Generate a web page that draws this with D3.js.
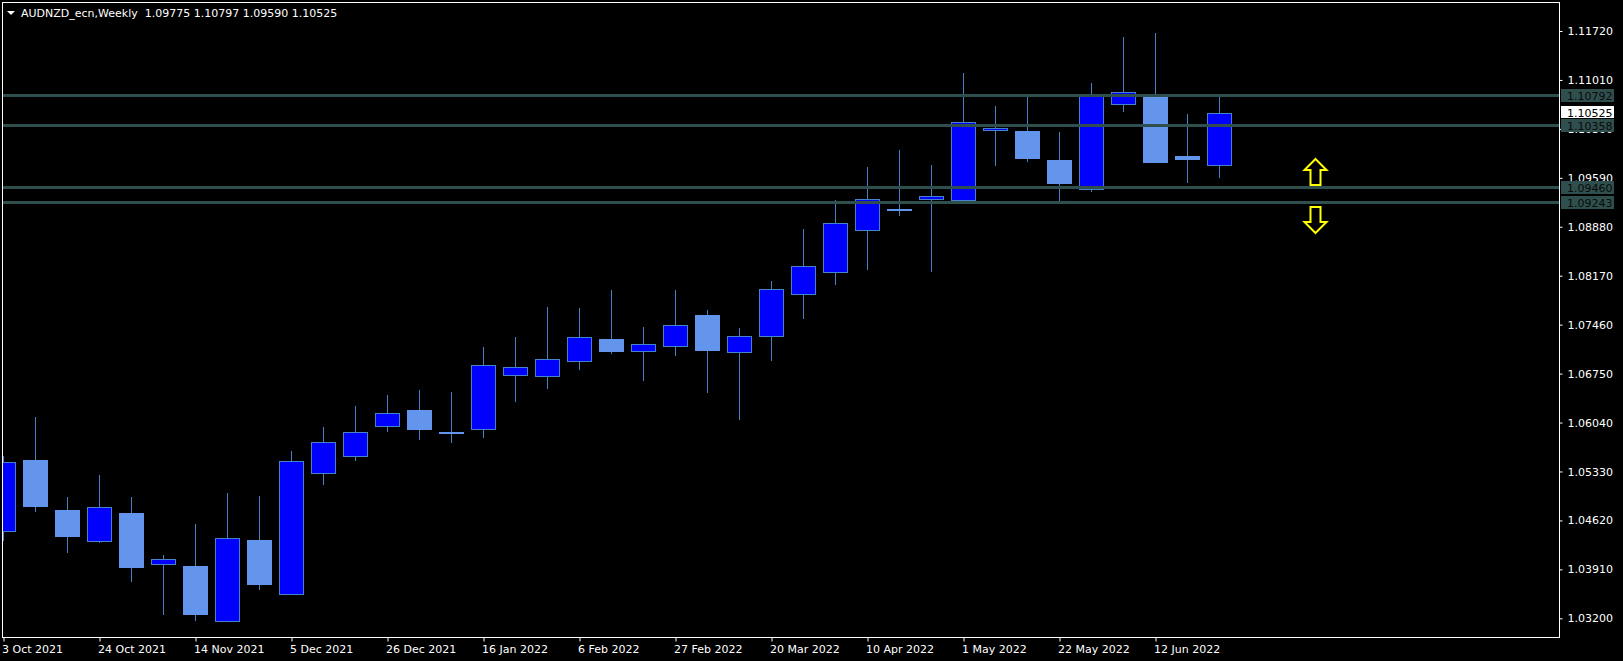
<!DOCTYPE html>
<html>
<head>
<meta charset="utf-8">
<script src="https://cdn.jsdelivr.net/npm/d3@7/dist/d3.min.js"></script>
<style>
  html, body { margin: 0; padding: 0; background: #000; }
  svg { display: block; }
  text { font-family: "DejaVu Sans", sans-serif; font-size: 11px; }
</style>
</head>
<body>
<svg id="chart" width="1623" height="661"></svg>
<script>
// ---------- DATA ----------
const symbolTitle = "AUDNZD_ecn,Weekly";
const dates = [
  "2021-10-03","2021-10-10","2021-10-17","2021-10-24","2021-10-31","2021-11-07","2021-11-14",
  "2021-11-21","2021-11-28","2021-12-05","2021-12-12","2021-12-19","2021-12-26","2022-01-02",
  "2022-01-09","2022-01-16","2022-01-23","2022-01-30","2022-02-06","2022-02-13","2022-02-20",
  "2022-02-27","2022-03-06","2022-03-13","2022-03-20","2022-03-27","2022-04-03","2022-04-10",
  "2022-04-17","2022-04-24","2022-05-01","2022-05-08","2022-05-15","2022-05-22","2022-05-29",
  "2022-06-05","2022-06-12","2022-06-19","2022-06-26"
];
const openP  = [1.04462,1.05497,1.04771,1.04317,1.04728,1.03983,1.03959,1.03156,1.04336,1.03548,
                1.05304,1.05550,1.05985,1.06222,1.05898,1.05942,1.06725,1.06711,1.06928,1.07252,
                1.07074,1.07146,1.07600,1.07059,1.07291,1.07900,1.08220,1.08829,1.09138,1.09279,
                1.09269,1.10280,1.10270,1.09852,1.09424,1.10657,1.10777,1.09907,1.09775];
const highP  = [1.05555,1.06120,1.04960,1.05279,1.04960,1.04118,1.04568,1.05018,1.04974,1.05627,
                1.05975,1.06280,1.06440,1.06512,1.06483,1.07136,1.07281,1.07716,1.07702,1.07963,
                1.07426,1.07963,1.07673,1.07412,1.08093,1.08848,1.09265,1.09747,1.09994,1.09776,
                1.11111,1.10632,1.10777,1.10255,1.10966,1.11633,1.11691,1.10516,1.10797];
const lowP   = [1.04326,1.04747,1.04152,1.04297,1.03731,1.03252,1.03165,1.03150,1.03615,1.03540,
                1.05138,1.05486,1.05907,1.05791,1.05748,1.05820,1.06342,1.06531,1.06807,1.07039,
                1.06647,1.07010,1.06473,1.06081,1.06937,1.07547,1.08040,1.08257,1.09041,1.08228,
                1.09206,1.09766,1.09824,1.09215,1.09389,1.10550,1.09810,1.09520,1.09590];
const closeP = [1.05463,1.04834,1.04398,1.04810,1.03949,1.04056,1.03267,1.04361,1.03702,1.05478,
                1.05753,1.05898,1.06174,1.05951,1.05898,1.06870,1.06841,1.06957,1.07277,1.07082,
                1.07175,1.07451,1.07097,1.07291,1.07973,1.08307,1.08930,1.09279,1.09138,1.09322,
                1.10396,1.10309,1.09882,1.09515,1.10773,1.10831,1.09824,1.09868,1.10525];

const yTickValues = [1.11720,1.11010,1.10300,1.09590,1.08880,1.08170,1.07460,1.06750,1.06040,1.05330,1.04620,1.03910,1.03200];
const xTickIndex  = [0,3,6,9,12,15,18,21,24,27,30,33,36];
const xTickLabels = ["3 Oct 2021","24 Oct 2021","14 Nov 2021","5 Dec 2021","26 Dec 2021","16 Jan 2022",
                     "6 Feb 2022","27 Feb 2022","20 Mar 2022","10 Apr 2022","1 May 2022","22 May 2022","12 Jun 2022"];
const levelPrices = [1.10792,1.10358,1.09460,1.09243];
const arrowDirs   = ["up","down"];
const arrowIndex  = [41,41];
const arrowPrices = [1.0949,1.0916];

// ---------- LAYOUT ----------
const W = 1623, H = 661;
const plot = {left: 2, top: 2, right: 1559, bottom: 637};
const svg = d3.select("#chart");
svg.append("rect").attr("width", W).attr("height", H).attr("fill", "#000");

const y = d3.scaleLinear().domain([1.032, 1.1172]).range([618.3, 31.0]);
const x = d3.scaleLinear().domain([0, 1]).range([3.5, 35.5]);

const bars = dates.map((d, i) => ({i, date: d, o: openP[i], h: highP[i], l: lowP[i], c: closeP[i]}));

svg.append("clipPath").attr("id", "clip").append("rect")
  .attr("x", plot.left).attr("y", plot.top)
  .attr("width", plot.right - plot.left).attr("height", plot.bottom - plot.top);
const g = svg.append("g").attr("clip-path", "url(#clip)");

const BULL = "#0000ff", BEAR = "#6495ed", WICK = "#4682c8";
const halfW = 12;

// wicks
g.selectAll("line.wick").data(bars).join("line")
  .attr("class", "wick")
  .attr("x1", d => x(d.i)).attr("x2", d => x(d.i))
  .attr("y1", d => Math.round(y(d.h))).attr("y2", d => Math.round(y(d.l)))
  .attr("stroke", WICK).attr("stroke-width", 1);

// bodies
g.selectAll("rect.body").data(bars).join("rect")
  .attr("class", "body")
  .each(function(d) {
    const bull = d.c > d.o;
    const top = Math.round(y(Math.max(d.o, d.c)));
    const bot = Math.round(y(Math.min(d.o, d.c)));
    const sel = d3.select(this);
    if (bull) {
      sel.attr("x", x(d.i) - halfW).attr("width", halfW * 2)
         .attr("y", top + 0.5).attr("height", Math.max(1, bot - top))
         .attr("fill", BULL).attr("stroke", WICK).attr("stroke-width", 1);
    } else {
      sel.attr("x", x(d.i) - halfW - 0.5).attr("width", halfW * 2 + 1)
         .attr("y", top).attr("height", Math.max(2, bot - top + 1))
         .attr("fill", BEAR);
    }
  });

// horizontal levels
g.selectAll("line.level").data(levelPrices).join("line")
  .attr("class", "level")
  .attr("x1", plot.left).attr("x2", plot.right)
  .attr("y1", d => Math.round(y(d)) + 0.5).attr("y2", d => Math.round(y(d)) + 0.5)
  .attr("stroke", "#2f4f4f").attr("stroke-width", 3);

// arrows
const arrowShapes = {
  up:   "M0,0 L11,11 L5,11 L5,26 L-5,26 L-5,11 L-11,11 Z",
  down: "M0,0 L11,-11 L5,-11 L5,-26 L-5,-26 L-5,-11 L-11,-11 Z"
};
arrowDirs.forEach((dir, k) => {
  const ax = x(arrowIndex[k]);
  const ay = Math.round(y(arrowPrices[k]));
  const ty = dir === "up" ? ay - 26 : ay + 26;
  g.append("path").attr("d", arrowShapes[dir])
    .attr("transform", `translate(${ax},${ty})`)
    .attr("fill", "#000").attr("stroke", "#ffff00").attr("stroke-width", 2)
    .attr("stroke-linejoin", "miter");
});

// frame
svg.append("rect")
  .attr("x", plot.left + 0.5).attr("y", plot.top + 0.5)
  .attr("width", plot.right - plot.left).attr("height", plot.bottom - plot.top)
  .attr("fill", "none").attr("stroke", "#fff").attr("stroke-width", 1);

// y axis
const yAxis = d3.axisRight(y).tickValues(yTickValues).tickSize(3).tickPadding(5)
  .tickFormat(d3.format(".5f"));
const ya = svg.append("g").attr("transform", `translate(${plot.right + 0.5},0)`).call(yAxis);
ya.select(".domain").remove();
ya.selectAll(".tick line").attr("stroke", "#fff");
ya.selectAll(".tick text").attr("fill", "#fff").attr("font-family", "DejaVu Sans").attr("font-size", 11);

// x axis
const xAxis = d3.axisBottom(x).tickValues(xTickIndex).tickSize(4).tickPadding(4)
  .tickFormat((d, k) => xTickLabels[k]);
const xa = svg.append("g").attr("transform", `translate(0,${plot.bottom + 0.5})`).call(xAxis);
xa.select(".domain").remove();
xa.selectAll(".tick line").attr("stroke", "#fff");
xa.selectAll(".tick text").attr("fill", "#fff").attr("text-anchor", "start").attr("dx", -2)
  .attr("font-family", "DejaVu Sans").attr("font-size", 11);

// current price label
const lastClose = closeP[closeP.length - 1];
const cy = Math.round(y(lastClose));
svg.append("rect").attr("x", plot.right + 2).attr("y", cy - 7).attr("width", 53).attr("height", 12).attr("fill", "#fff");
svg.append("text").attr("x", plot.right + 8).attr("y", cy + 3.5).attr("fill", "#000")
  .text(d3.format(".5f")(lastClose));

// level labels
levelPrices.forEach(p => {
  const ly = Math.round(y(p));
  svg.append("rect").attr("x", plot.right + 2).attr("y", ly - 6).attr("width", 53).attr("height", 13).attr("fill", "#2f4f4f");
  svg.append("text").attr("x", plot.right + 8).attr("y", ly + 5).attr("fill", "#0a0a0a")
    .text(d3.format(".5f")(p));
});

// header
svg.append("path").attr("d", "M7,11 L15,11 L11,15 Z").attr("fill", "#fff");
const last = bars[bars.length - 1];
svg.append("text").attr("x", 21).attr("y", 16.5).attr("fill", "#fff").attr("xml:space", "preserve")
  .style("white-space", "pre")
  .text(`${symbolTitle}  ${d3.format(".5f")(last.o)} ${d3.format(".5f")(last.h)} ${d3.format(".5f")(last.l)} ${d3.format(".5f")(last.c)}`);
</script>
</body>
</html>
